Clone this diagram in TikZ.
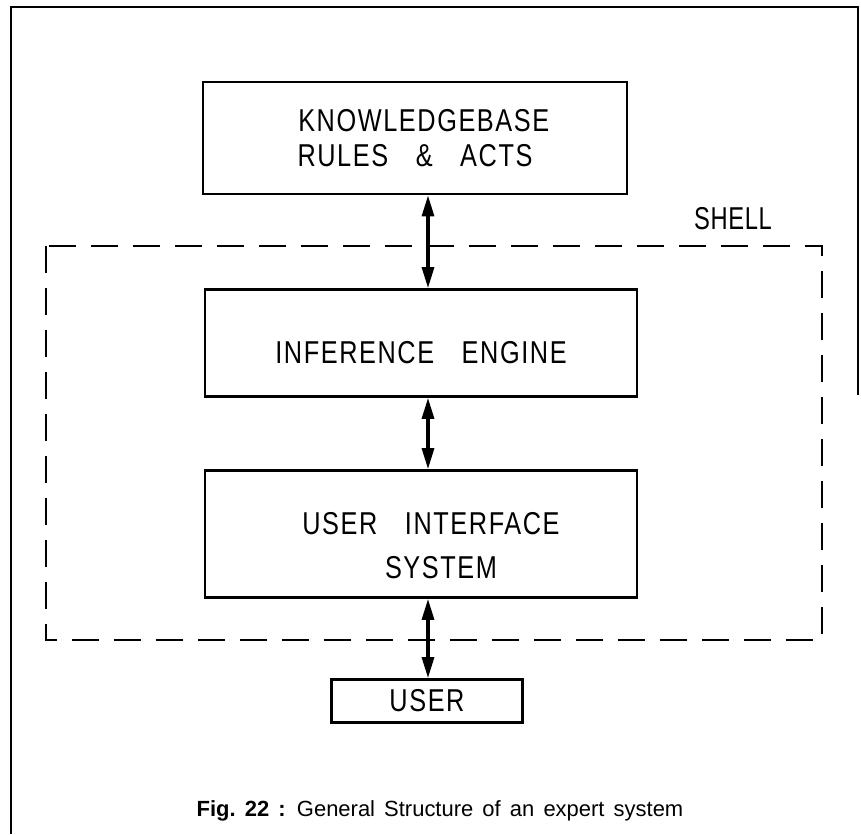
\documentclass[tikz,border=0pt]{standalone}
\usepackage{fontspec}
\setmainfont{Liberation Sans}
\newfontfamily\letterfont[FakeStretch=0.8,LetterSpace=5,WordSpace=3.2]{Liberation Sans}
\newfontfamily\shellfont[FakeStretch=0.75,LetterSpace=2]{Liberation Sans}
\newfontfamily\capfont[WordSpace=1.5]{Liberation Sans}
\usepackage{tikz}
\usetikzlibrary{arrows.meta,calc}

\begin{document}
\begin{tikzpicture}[x=0.02cm,y=-0.02cm,
	>={Triangle[length=0.42cm,width=0.24cm]},
	block/.style={draw,line width=1.6pt,align=center,inner sep=0pt,
		font=\letterfont\fontsize{18}{20}\selectfont},
	link/.style={<->,line width=1.8pt}]
	
	\useasboundingbox (0,0) rectangle (861,834);
	
	% page frame (open at the bottom and lower right)
	\draw[line width=1.2pt] (11,834)--(11,7)--(858,7)--(858,395);
	
	\node[block,minimum width=424*0.02cm,minimum height=112*0.02cm] (kb) at (415,138)
		{\hspace*{0.35cm}KNOWLEDGEBASE\\RULES \& ACTS};
	\node[block,minimum width=432*0.02cm,minimum height=107*0.02cm] (ie) at (421,343)
		{\rule{0pt}{23pt}INFERENCE ENGINE};
	\node[block,minimum width=432*0.02cm,minimum height=127*0.02cm,
		font=\letterfont\fontsize{18}{25}\selectfont] (ui) at (421,534)
		{\rule{0pt}{25.5pt}\hspace*{0.4cm}USER INTERFACE\\\hspace*{0.8cm}SYSTEM};
	\node[block,minimum width=191*0.02cm,minimum height=43*0.02cm] (user) at (427,701)
		{USER};
	
	% the shell round engine and interface
	\draw[line width=1.4pt,dash pattern=on 0.54cm off 0.3cm]
		(46,246) rectangle (822,640);
	\node[font=\shellfont\fontsize{18}{20}\selectfont] (shell) at (733,219) {SHELL};
	
	\coordinate (axis) at (428,0); % line of the arrows
	
	\draw[link] (kb.south -| axis) -- (ie.north -| axis);
	\draw[link] (ie.south -| axis) -- (ui.north -| axis);
	\draw[link] (ui.south -| axis) -- (user.north -| axis);
	
	\node[font=\capfont\fontsize{12.5}{14}\selectfont] (caption) at (440,811)
		{\textbf{Fig.\ 22 :} General Structure of an expert system};
	
\end{tikzpicture}
\end{document}
